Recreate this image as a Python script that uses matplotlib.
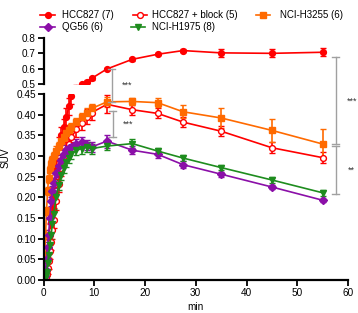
import matplotlib
matplotlib.use("Agg")
import matplotlib.pyplot as plt
from matplotlib.lines import Line2D
import numpy as np

plt.rcParams['font.family'] = ['Liberation Sans', 'DejaVu Sans']

# ---- data ----
time_min = [0.1, 0.25, 0.4, 0.6, 0.8, 1.0, 1.25, 1.5, 1.75, 2.0, 2.5, 3.0, 3.5, 4.0, 4.5,
            5.0, 5.5, 6.5, 7.5, 8.5, 9.5, 12.5, 17.5, 22.5, 27.5, 35, 45, 55]

hcc827 = [0.0, 0.005, 0.012, 0.025, 0.05, 0.075, 0.11, 0.14, 0.17, 0.2, 0.27, 0.325, 0.35, 0.37,
          0.395, 0.42, 0.445, 0.475, 0.50, 0.515, 0.537, 0.598, 0.661, 0.694, 0.718, 0.703, 0.70, 0.707]
hcc827_err = [0.005, 0.01, 0.012, 0.015, 0.02, 0.022, 0.025, 0.025, 0.025, 0.025, 0.025, 0.02, 0.02, 0.02,
              0.02, 0.02, 0.02, 0.02, 0.008, 0.008, 0.008, 0.008, 0.008, 0.008, 0.008, 0.024, 0.027, 0.027]

hcc827_block = [0.0, 0.003, 0.008, 0.015, 0.03, 0.045, 0.07, 0.093, 0.12, 0.145, 0.19, 0.232, 0.27, 0.30,
                0.315, 0.33, 0.345, 0.365, 0.38, 0.395, 0.405, 0.425, 0.412, 0.403, 0.382, 0.360, 0.320, 0.296]
hcc827_block_err = [0.005, 0.008, 0.01, 0.012, 0.015, 0.018, 0.02, 0.02, 0.02, 0.02, 0.02, 0.02, 0.018, 0.018,
                    0.018, 0.018, 0.018, 0.018, 0.018, 0.018, 0.018, 0.022, 0.012, 0.012, 0.012, 0.012, 0.013, 0.013]

nci_h3255 = [0.02, 0.06, 0.11, 0.167, 0.215, 0.245, 0.265, 0.28, 0.29, 0.30, 0.313, 0.325, 0.337, 0.347,
             0.355, 0.362, 0.37, 0.382, 0.394, 0.405, 0.415, 0.431, 0.432, 0.429, 0.407, 0.392, 0.362, 0.329]
nci_h3255_err = [0.005, 0.008, 0.01, 0.01, 0.01, 0.01, 0.01, 0.01, 0.01, 0.01, 0.01, 0.01, 0.01, 0.01,
                 0.01, 0.01, 0.01, 0.01, 0.01, 0.01, 0.012, 0.012, 0.009, 0.011, 0.016, 0.025, 0.027, 0.036]

qg56 = [0.0, 0.01, 0.025, 0.05, 0.08, 0.11, 0.15, 0.19, 0.215, 0.235, 0.26, 0.275, 0.29, 0.305,
        0.315, 0.32, 0.322, 0.33, 0.334, 0.326, 0.322, 0.336, 0.314, 0.304, 0.279, 0.256, 0.225, 0.193]
qg56_err = [0.005, 0.008, 0.01, 0.01, 0.012, 0.012, 0.012, 0.012, 0.012, 0.012, 0.012, 0.012, 0.012, 0.012,
            0.012, 0.012, 0.012, 0.012, 0.012, 0.012, 0.012, 0.016, 0.01, 0.008, 0.008, 0.006, 0.006, 0.004]

nci_h1975 = [0.0, 0.005, 0.01, 0.02, 0.04, 0.06, 0.085, 0.11, 0.135, 0.16, 0.2, 0.23, 0.255, 0.27,
             0.285, 0.295, 0.305, 0.314, 0.318, 0.322, 0.318, 0.324, 0.330, 0.312, 0.295, 0.272, 0.242, 0.211]
nci_h1975_err = [0.005, 0.008, 0.01, 0.01, 0.012, 0.012, 0.012, 0.012, 0.012, 0.012, 0.012, 0.012, 0.012, 0.012,
                 0.012, 0.012, 0.012, 0.012, 0.012, 0.012, 0.012, 0.01, 0.01, 0.008, 0.008, 0.007, 0.007, 0.007]

labels = ["HCC827 (7)", "HCC827 + block (5)", "NCI-H3255 (6)", "QG56 (6)", "NCI-H1975 (8)"]
colors = ["#FF0000", "#FF0000", "#FF6A00", "#8B0FA8", "#1E8C1E"]
markers = ["o", "o", "s", "D", "v"]
msizes = [4.2, 4.2, 4.7, 3.8, 4.2]
facecolors = ["#FF0000", "white", "#FF6A00", "#8B0FA8", "#1E8C1E"]

series = [(hcc827, hcc827_err), (hcc827_block, hcc827_block_err), (nci_h3255, nci_h3255_err),
          (qg56, qg56_err), (nci_h1975, nci_h1975_err)]

bottom_yticks = [0.00, 0.05, 0.10, 0.15, 0.20, 0.25, 0.30, 0.35, 0.40, 0.45]
top_yticks = [0.5, 0.6, 0.7, 0.8]
xticks = [0, 10, 20, 30, 40, 50, 60]

W, H = 358, 313
fig = plt.figure(figsize=(W / 100, H / 100), dpi=100)

def fx(px):
    return px / W

def fy(py):
    return 1 - py / H

ax_b = fig.add_axes([fx(43.5), fy(280), fx(348) - fx(43.5), fy(94) - fy(280)])
ax_t = fig.add_axes([fx(43.5), fy(84), fx(348) - fx(43.5), fy(38) - fy(84)])

for ax in (ax_b, ax_t):
    for (vals, errs), c, m, ms, fc in zip(series, colors, markers, msizes, facecolors):
        ax.errorbar(time_min, vals, yerr=errs, color=c, marker=m, markersize=ms,
                    markerfacecolor=fc, markeredgecolor=c, markeredgewidth=1.0,
                    linewidth=1.2, elinewidth=1.2, capsize=2.2, capthick=1.2)
    ax.set_xlim(0, 60)
    for s in ("top", "right"):
        ax.spines[s].set_visible(False)
    ax.spines["left"].set_linewidth(1.6)
    ax.tick_params(axis="both", labelsize=7.2, width=1.3, length=4, direction="out", pad=1.5)

ax_b.set_ylim(0, 0.45)
ax_b.set_yticks(bottom_yticks)
ax_b.set_yticklabels([f"{v:.2f}" for v in bottom_yticks])
ax_b.set_xticks(xticks)
ax_b.spines["bottom"].set_linewidth(1.6)

ax_t.set_ylim(0.5, 0.8)
ax_t.set_yticks(top_yticks)
ax_t.set_yticklabels([f"{v:.1f}" for v in top_yticks])
ax_t.spines["bottom"].set_visible(False)
ax_t.set_xticks([])

fig.text(fx(6), fy(158), "SUV", rotation=90, ha="center", va="center", fontsize=7.2)
fig.text(fx(195), fy(307), "min", ha="center", va="center", fontsize=7.2)

# ---- significance brackets ----
inv = fig.transFigure.inverted()

def to_fig(ax, x, y):
    return inv.transform(ax.transData.transform((x, y)))

brackets = [  # (x, (axis, y_top), (axis, y_bottom), text)
    (13.4, (ax_t, 0.598), (ax_b, 0.431), "***"),
    (13.6, (ax_b, 0.410), (ax_b, 0.346), "***"),
    (57.6, (ax_t, 0.675), (ax_b, 0.328), "***"),
    (57.6, (ax_b, 0.325), (ax_b, 0.208), "**"),
]
gray = "#A0A0A0"
cap = fx(3.5)
for x, (a1, y1), (a2, y2), txt in brackets:
    p1 = to_fig(a1, x, y1)
    p2 = to_fig(a2, x, y2)
    fig.add_artist(Line2D([p1[0], p2[0]], [p1[1], p2[1]], transform=fig.transFigure, color=gray, lw=1.0))
    for p in (p1, p2):
        fig.add_artist(Line2D([p[0] - cap, p[0] + cap], [p[1], p[1]], transform=fig.transFigure, color=gray, lw=1.0))
    fig.text(p1[0] + fx(16), (p1[1] + p2[1]) / 2, txt, ha="center", va="center", fontsize=6.5, color="#333333")

# ---- legend (manual layout) ----
legend_pos = [  # (line start px, line end px, text px, row y px)
    (40, 55, 62, 15),
    (133, 147, 152, 15),
    (256, 270, 280, 15),
    (40, 55, 62, 27),
    (131, 145, 152, 27),
]
for (x0, x1, tx, ry), lab, c, m, ms, fc in zip(legend_pos, labels, colors, markers, msizes, facecolors):
    fig.add_artist(Line2D([fx(x0), fx(x1)], [fy(ry), fy(ry)], transform=fig.transFigure, color=c, lw=1.2))
    fig.add_artist(Line2D([fx((x0 + x1) / 2)], [fy(ry)], transform=fig.transFigure, color=c, marker=m,
                          markersize=ms, markerfacecolor=fc, markeredgecolor=c, markeredgewidth=1.0))
    fig.text(fx(tx), fy(ry), lab, ha="left", va="center", fontsize=7)

fig.savefig("out.png", dpi=100)
